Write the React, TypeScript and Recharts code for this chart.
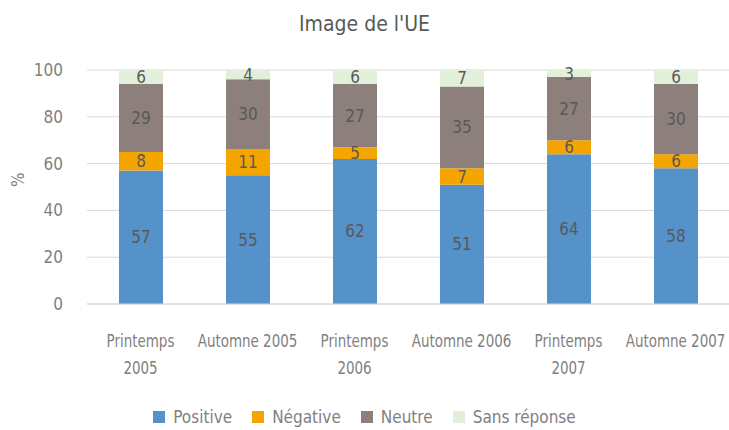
import { BarChart, Bar, XAxis, YAxis, CartesianGrid, Legend, LabelList } from "recharts"

const categories = ["Printemps 2005", "Automne 2005", "Printemps 2006", "Automne 2006", "Printemps 2007", "Automne 2007"]
const positive = [57, 55, 62, 51, 64, 58]
const negative = [8, 11, 5, 7, 6, 6]
const neutre = [29, 30, 27, 35, 27, 30]
const sansReponse = [6, 4, 6, 7, 3, 6]
const yTicks = [0, 20, 40, 60, 80, 100]

const FONT = "'DejaVu Sans', sans-serif"
const TEXT = "#7f7f7f"
const LABEL = "#595959"
const SQUEEZE = 0.88

const series = [
  { key: "positive", name: "Positive", color: "#5592ca" },
  { key: "negative", name: "Négative", color: "#f5a500" },
  { key: "neutre", name: "Neutre", color: "#8d7f7b" },
  { key: "sans", name: "Sans réponse", color: "#e2efd9" },
]

const data = categories.map((c, i) => ({
  name: c,
  positive: positive[i],
  negative: negative[i],
  neutre: neutre[i],
  sans: sansReponse[i],
}))

let ctx: CanvasRenderingContext2D | null = null
function measure(s: string) {
  if (!ctx) {
    ctx = document.createElement("canvas").getContext("2d")
    if (ctx) {
      ctx.font = `condensed 17px ${FONT}`
      ;(ctx as any).fontStretch = "condensed"
    }
  }
  return ctx ? ctx.measureText(s).width * SQUEEZE : s.length * 8
}

// wrap long category names the way the original does
function wrap(label: string, max: number) {
  const words = label.split(" ")
  const lines: string[] = []
  let cur = ""
  words.forEach((w) => {
    const next = cur ? cur + " " + w : w
    if (cur && measure(next) > max) {
      lines.push(cur)
      cur = w
    } else {
      cur = next
    }
  })
  if (cur) lines.push(cur)
  return lines
}

function CategoryTick(props: any) {
  const { x, y, payload } = props
  const lines = wrap(payload.value, 106)
  return (
    <g transform={`translate(${x},${y}) scale(${SQUEEZE},1)`}>
      <text x={0} y={0} textAnchor="middle" fill={TEXT} fontSize={17} fontFamily={FONT}>
        {lines.map((l, i) => (
          <tspan key={i} x={0} y={35 + i * 27}>
            {l}
          </tspan>
        ))}
      </text>
    </g>
  )
}

function LegendContent() {
  return (
    <div style={{ display: "flex", justifyContent: "center", gap: 20, fontFamily: FONT, fontSize: 17, color: TEXT }}>
      {series.map((s) => (
        <div key={s.key} style={{ display: "flex", alignItems: "center" }}>
          <span style={{ width: 12, height: 12, background: s.color, marginRight: 8, display: "inline-block" }} />
          {s.name}
        </div>
      ))}
    </div>
  )
}

export default function App() {
  return (
    <div
      style={{
        position: "absolute",
        left: 0,
        top: 0,
        width: 729,
        height: 430,
        background: "#fff",
        fontFamily: FONT,
        fontStretch: "condensed",
      }}
    >
      <div
        style={{
          position: "absolute",
          top: 12,
          width: 729,
          textAlign: "center",
          fontSize: 21,
          color: LABEL,
        }}
      >
        Image de l'UE
      </div>
      <BarChart width={729} height={430} data={data} margin={{ top: 70, right: 0, left: 0, bottom: 0 }}>
        <CartesianGrid vertical={false} stroke="#d9d9d9" />
        <XAxis
          dataKey="name"
          tick={<CategoryTick />}
          tickLine={false}
          axisLine={{ stroke: "#d9d9d9" }}
          height={90}
          interval={0}
        />
        <YAxis
          domain={[0, 100]}
          ticks={yTicks}
          width={87}
          tickLine={false}
          axisLine={false}
          tickMargin={18}
          tick={{ fill: TEXT, fontSize: 17, fontFamily: FONT }}
          label={{ value: "%", angle: -90, position: "insideLeft", offset: 18, fill: TEXT, fontSize: 17, fontFamily: FONT }}
        />
        <Legend verticalAlign="bottom" height={36} content={<LegendContent />} wrapperStyle={{ top: 407 }} />
        {series.map((s) => (
          <Bar key={s.key} dataKey={s.key} name={s.name} stackId="a" fill={s.color} barSize={44} isAnimationActive={false}>
            <LabelList dataKey={s.key} position="center" fill={LABEL} fontSize={17} fontFamily={FONT} />
          </Bar>
        ))}
      </BarChart>
    </div>
  )
}
